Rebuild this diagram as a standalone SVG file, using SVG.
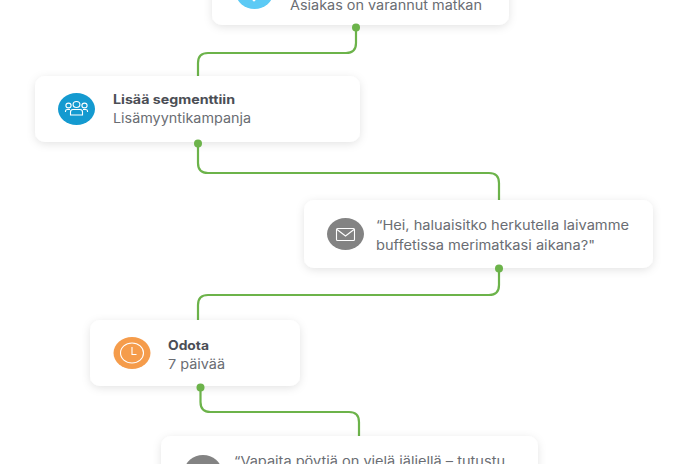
<svg xmlns="http://www.w3.org/2000/svg" width="696" height="464" viewBox="0 0 696 464">
<defs>
<filter id="sh" x="-10%" y="-20%" width="120%" height="145%"><feDropShadow dx="0" dy="2" stdDeviation="4" flood-color="#000" flood-opacity="0.11"/></filter>
</defs>
<style>
.card{fill:#fff;filter:url(#sh)}
.t{font-family:Inter,"Liberation Sans",sans-serif;font-size:13px;fill:#6a6d73}
.b{font-family:Inter,"Liberation Sans",sans-serif;font-size:12.5px;font-weight:700;fill:#4b4e55}
.c{fill:none;stroke:#6cb34a;stroke-width:2.2}
.d{fill:#6cb34a}
.i{fill:none;stroke:#fff;stroke-width:1.1}
</style>
<rect width="696" height="464" fill="#fff"/>
<g id="connectors">
<path class="c" d="M356 28V43Q356 53 346 53H208Q198 53 198 63V77"/>
<path class="c" d="M198 143V163Q198 173 208 173H489Q499 173 499 183V201"/>
<path class="c" d="M499 268V285Q499 295 489 295H208Q198 295 198 305V321"/>
<path class="c" d="M200.500 387V402Q200.500 412 210.500 412H349Q359 412 359 422V437"/>
</g>
<g id="node-trigger">
<rect class="card" x="212" y="-40" width="297" height="65" rx="10"/>
<ellipse cx="254.500" cy="-7" rx="18.500" ry="16" fill="#5ccaf5"/>
<path class="i" d="M250 -3L254 1L260 -5"/>
<text class="t" x="290" y="9.500" textLength="192" lengthAdjust="spacingAndGlyphs">Asiakas on varannut matkan</text>
<circle class="d" cx="356" cy="27.500" r="4"/>
</g>
<g id="node-segment">
<rect class="card" x="35" y="76" width="325" height="66" rx="10"/>
<ellipse cx="76.500" cy="109" rx="18.500" ry="16" fill="#149ad0"/>
<g class="i"><ellipse cx="76.500" cy="104.500" rx="3.400" ry="3"/><ellipse cx="68.500" cy="105.500" rx="2.600" ry="2.400"/><ellipse cx="84.500" cy="105.500" rx="2.600" ry="2.400"/><path d="M70.500 115V112Q70.500 109.500 73 109.500H80Q82.500 109.500 82.500 112V115Z"/><path d="M65.500 112V111Q65.500 109.500 67.500 109.500H70M87.500 112V111Q87.500 109.500 85.500 109.500H83"/></g>
<text class="b" x="113" y="104" textLength="122" lengthAdjust="spacingAndGlyphs">Lisää segmenttiin</text>
<text class="t" x="113" y="122.500" textLength="138" lengthAdjust="spacingAndGlyphs">Lisämyyntikampanja</text>
<circle class="d" cx="198" cy="143.500" r="4"/>
</g>
<g id="node-message-1">
<rect class="card" x="304" y="200" width="349" height="68" rx="10"/>
<ellipse cx="345.500" cy="234" rx="18.500" ry="16" fill="#838383"/>
<g class="i"><rect x="336.500" y="228.500" width="18" height="12" rx="1"/><path d="M337 229.500L345.500 236L354 229.500"/></g>
<text class="t" x="376" y="230" textLength="253" lengthAdjust="spacingAndGlyphs">“Hei, haluaisitko herkutella laivamme</text>
<text class="t" x="376" y="250" textLength="219" lengthAdjust="spacingAndGlyphs">buffetissa merimatkasi aikana?"</text>
<circle class="d" cx="499" cy="268.500" r="4"/>
</g>
<g id="node-wait">
<rect class="card" x="90" y="320" width="210" height="66" rx="10"/>
<ellipse cx="132" cy="353" rx="18.500" ry="16" fill="#f59c4b"/>
<g class="i"><ellipse cx="132" cy="353" rx="11.500" ry="10"/><path d="M132 347V354.500H136.500"/></g>
<text class="b" x="168" y="350" textLength="41" lengthAdjust="spacingAndGlyphs">Odota</text>
<text class="t" x="168" y="369" textLength="57" lengthAdjust="spacingAndGlyphs">7 päivää</text>
<circle class="d" cx="200.500" cy="387.500" r="4"/>
</g>
<g id="node-message-2">
<rect class="card" x="161" y="436" width="377" height="68" rx="10"/>
<ellipse cx="203" cy="471" rx="18.500" ry="16" fill="#838383"/>
<text class="t" x="234" y="465.500" textLength="271" lengthAdjust="spacingAndGlyphs">“Vapaita pöytiä on vielä jäljellä – tutustu</text>
</g>
</svg>
